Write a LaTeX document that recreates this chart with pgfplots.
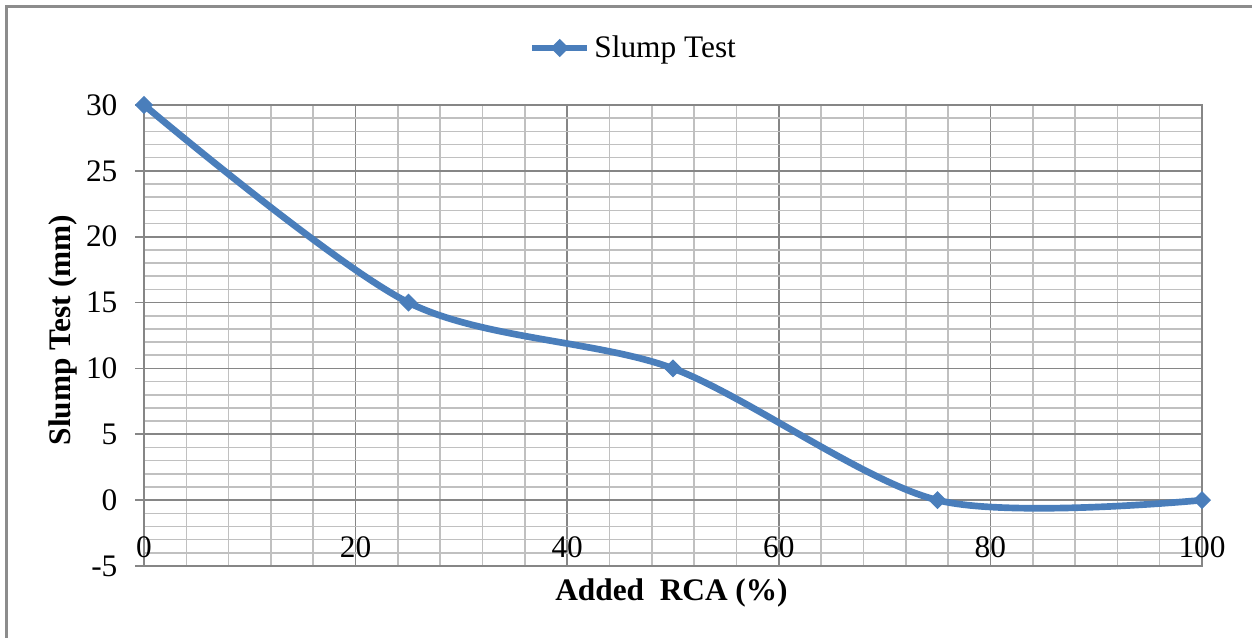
\documentclass[border=0pt]{standalone}
\usepackage{fontspec}
\setmainfont{Liberation Serif}
\usepackage{pgfplots}
\pgfplotsset{compat=1.18}

\definecolor{slump}{HTML}{4A7EBB}
\definecolor{majgrid}{HTML}{868686}
\definecolor{mingrid}{HTML}{C0C0C0}
\definecolor{frame}{HTML}{8C8C8C}

\begin{document}
\begin{tikzpicture}[x=1pt,y=1pt]
\useasboundingbox (0,0) rectangle (939,477.75);
% chart area border (only top and left are in view)
\draw[frame, line width=1.6pt] (4.9,-2) -- (4.9,472.9) -- (941,472.9);

\begin{axis}[
  at={(108pt,53.25pt)}, anchor=south west,
  scale only axis,
  width=793.5pt, height=345.75pt,
  xmin=0, xmax=100, ymin=-5, ymax=30,
  xtick={0,20,...,100},
  ytick={-5,0,...,30},
  minor x tick num=4,
  minor y tick num=4,
  xmajorgrids, ymajorgrids, xminorgrids, yminorgrids,
  major grid style={majgrid, line width=1.2pt},
  minor grid style={mingrid, line width=1.2pt},
  axis line style={majgrid, line width=1.3pt},
  tick align=outside,
  ytick pos=left,
  xtick style={draw=none},
  minor tick style={draw=none},
  major tick length=6.75pt,
  ytick style={majgrid, line width=1.2pt},
  /pgf/number format/assume math mode=true,
  tick label style={font=\fontsize{23.5}{28}\selectfont, text=black},
  xticklabel style={anchor=center, inner sep=0pt, yshift=21pt},
  yticklabel style={anchor=east, inner sep=0pt, xshift=-13pt},
  label style={font=\fontsize{23.5}{28}\selectfont\bfseries},
  xlabel={Added\ \ RCA (\%)},
  ylabel={Slump Test (mm)},
  xlabel style={at={(axis description cs:0.4986,0)}, anchor=base, yshift=-25.5pt},
  ylabel style={at={(axis description cs:-0.0699,0.512)}, anchor=base},
  clip=false,
  legend style={at={(axis description cs:0.4636,1.1236)}, anchor=center,
    draw=none, fill=none, inner sep=0pt,
    font=\fontsize{23.5}{28}\selectfont,
    nodes={inner sep=3pt}},
  legend image code/.code={
    \draw[#1, mark=none] (0pt,0pt) -- (41pt,0pt);
    \draw[#1, only marks] plot coordinates {(20.5pt,0pt)};
  },
]
\addplot[slump, line width=5pt, smooth, tension=0.5,
  mark=square*, mark size=4.3pt,
  mark options={rotate=45, solid, fill=slump, draw=slump, line width=1pt}]
  coordinates {
  (0,30)
  (25,15)
  (50,10)
  (75,0)
  (100,0)
  };
\addlegendentry{Slump Test}
\end{axis}
\end{tikzpicture}
\end{document}
